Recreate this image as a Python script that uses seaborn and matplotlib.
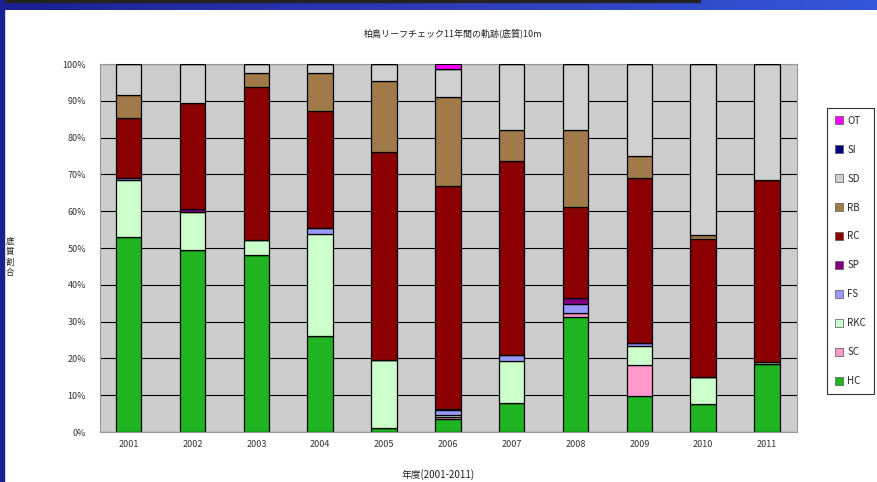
import numpy as np
import pandas as pd
import seaborn as sns
import matplotlib
matplotlib.use("Agg")
import matplotlib.pyplot as plt
from matplotlib.patches import Patch, Rectangle
from matplotlib.colors import LinearSegmentedColormap

sns.set_theme(style="white")
plt.rcParams['font.family'] = ['Noto Sans CJK JP', 'DejaVu Sans']

# data (percent of substrate, per year)
years = ["2001", "2002", "2003", "2004", "2005", "2006", "2007", "2008", "2009", "2010", "2011"]
HC = [53.0, 49.5, 48.0, 26.0, 1.2, 3.6, 8.0, 31.3, 9.9, 7.5, 18.6]
SC = [0, 0, 0, 0, 0, 0.5, 0, 1.1, 8.2, 0, 0]
RKC = [15.6, 10.2, 4.1, 27.7, 18.5, 0.6, 11.3, 0, 5.3, 7.5, 0.4]
FS = [0.5, 0, 0, 1.6, 0, 1.2, 1.7, 2.5, 0.8, 0, 0]
SP = [0, 0.8, 0, 0, 0, 0.4, 0, 1.4, 0, 0, 0]
RC = [16.1, 28.8, 41.6, 32.0, 56.5, 60.5, 52.6, 24.9, 44.9, 37.4, 49.6]
RB = [6.5, 0, 3.8, 10.2, 19.3, 24.3, 8.6, 21.0, 5.9, 1.1, 0]
SD = [8.3, 10.7, 2.5, 2.5, 4.5, 7.5, 17.8, 17.8, 25.0, 46.5, 31.4]
SI = [0, 0, 0, 0, 0, 0, 0, 0, 0, 0, 0]
OT = [0, 0, 0, 0, 0, 1.4, 0, 0, 0, 0, 0]

series_names = ["HC", "SC", "RKC", "FS", "SP", "RC", "RB", "SD", "SI", "OT"]
series_vals = [HC, SC, RKC, FS, SP, RC, RB, SD, SI, OT]
colors = ["#20B420", "#FF99CC", "#CCFFCC", "#9999FF", "#800080",
          "#8B0000", "#A07A48", "#D0D0D0", "#000080", "#FF00FF"]

fig = plt.figure(figsize=(8.78, 4.82), dpi=100)
fig.patch.set_facecolor("white")
ax = fig.add_axes([100/878, 50/482, 697/878, 368/482])
ax.set_facecolor("#CDCDCD")

bottom = np.zeros(len(years))
for name, vals, c in zip(series_names, series_vals, colors):
    vals = np.array(vals, dtype=float)
    sns.barplot(x=years, y=vals, bottom=bottom, color=c, width=0.4,
                edgecolor="black", linewidth=0.9, saturation=1, ax=ax, zorder=3)
    bottom += vals

ax.set_xlim(-0.45, 10.47)
ax.set_ylim(0, 100)
ax.set_yticks(np.arange(0, 101, 10))
ax.set_yticklabels([f"{v}%" for v in range(0, 101, 10)])
ax.yaxis.grid(True, color="black", linewidth=0.8, zorder=0)
ax.set_axisbelow(True)
ax.tick_params(axis="both", labelsize=6.5, colors="#333333", length=0, pad=10)
ax.tick_params(axis="x", pad=6)
ax.set_xlabel("")
ax.set_ylabel("")
for s in ax.spines.values():
    s.set_color("#999999")
    s.set_linewidth(0.8)

# texts
fig.text(453/878, 1 - 33/482, "柏島リーフチェック11年間の軌跡(底質)10m",
         ha="center", va="center", fontsize=6.5, color="#222222")
fig.text(10/878, 1 - 257/482, "底\n質\n割\n合", ha="center", va="center",
         fontsize=6, linespacing=1.2, color="#222222")
fig.text(438/878, 1 - 475/482, "年度(2001-2011)", ha="center", va="center",
         fontsize=7, color="#222222")

# legend, top entry first
handles = [Patch(facecolor=c, edgecolor="#555555", linewidth=0.5)
           for c in colors[::-1]]
leg = fig.legend(handles, series_names[::-1], loc="upper left",
                 bbox_to_anchor=(822/878, 1 - 103/482), frameon=True,
                 fontsize=7, labelspacing=1.95, handlelength=0.9,
                 handleheight=0.9, handletextpad=0.4, borderpad=0.8,
                 fancybox=False)
leg.get_frame().set_edgecolor("black")
leg.get_frame().set_linewidth(0.8)

# slide frame: blue band on top, strip on left
band = fig.add_axes([0, 1 - 10/482, 1, 10/482])
cmap = LinearSegmentedColormap.from_list("band", ["#1A2090", "#2E3CB8", "#3456D8"])
band.imshow(np.linspace(0, 1, 256)[None, :], aspect="auto", cmap=cmap,
            extent=[0, 1, 0, 1])
band.add_patch(Rectangle((0, 0.8), 700/878, 0.2, color="#222222"))
band.set_axis_off()
fig.add_artist(Rectangle((0, 0), 4/878, 1, transform=fig.transFigure,
                         color="#1A2090", zorder=5))

fig.savefig("out.png", dpi=100)
